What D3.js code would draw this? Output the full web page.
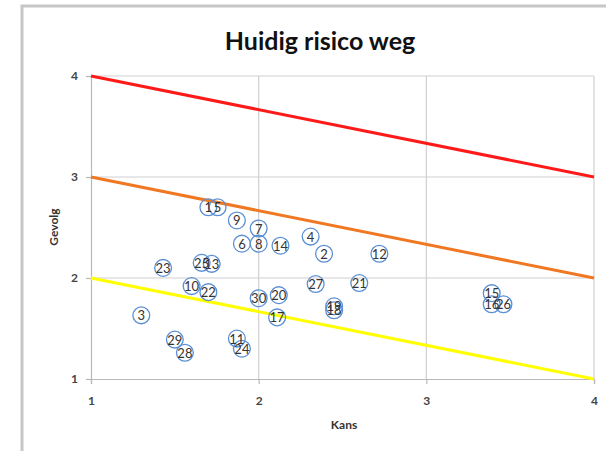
<!DOCTYPE html>
<html>
<head>
<meta charset="utf-8">
<script src="https://cdn.jsdelivr.net/npm/d3@7"></script>
<style>
  html, body { margin: 0; padding: 0; background: #fff; }
  svg { display: block; }
</style>
</head>
<body>
<svg id="chart" width="606" height="451"></svg>
<script>
// Risk items: likelihood (Kans) and impact (Gevolg)
const ids    = [1, 2, 3, 4, 5, 6, 7, 8, 9, 10, 11, 12, 13, 14, 15, 16, 17, 18, 19, 20, 21, 22, 23, 24, 25, 26, 27, 28, 29, 30];
const kans   = [1.70, 2.39, 1.30, 2.31, 1.755, 1.90, 2.00, 2.00, 1.87, 1.60, 1.87, 2.72, 1.72, 2.13, 3.39, 3.39, 2.11, 2.45, 2.45, 2.12, 2.60, 1.70, 1.43, 1.90, 1.66, 3.46, 2.34, 1.56, 1.50, 2.00];
const gevolg = [2.70, 2.24, 1.63, 2.41, 2.70, 2.34, 2.49, 2.34, 2.57, 1.92, 1.40, 2.24, 2.14, 2.32, 1.85, 1.74, 1.61, 1.68, 1.72, 1.83, 1.95, 1.86, 2.10, 1.30, 2.15, 1.74, 1.94, 1.26, 1.39, 1.80];

// Risk boundary lines (start and end values on the Gevolg axis)
const boundaryNames = ["hoog", "midden", "laag"];
const boundaryStart = [4, 3, 2];
const boundaryEnd   = [3, 2, 1];
const boundaryColors = ["#ff1a1a", "#f07822", "#ffff00"];

const xTicks = [1, 2, 3, 4];
const yTicks = [1, 2, 3, 4];

const svg = d3.select("#chart");

// Outer chart frame
svg.append("rect")
  .attr("x", 22).attr("y", 6)
  .attr("width", 620).attr("height", 480)
  .attr("fill", "#fff")
  .attr("stroke", "#c6c6c6")
  .attr("stroke-width", 3);

const x = d3.scaleLinear().domain([1, 4]).range([91, 594]);
const y = d3.scaleLinear().domain([1, 4]).range([379, 76]);

// Gridlines
const grid = svg.append("g");
grid.selectAll("line.v").data(xTicks.slice(1)).join("line")
  .attr("x1", d => x(d)).attr("x2", d => x(d))
  .attr("y1", y(4)).attr("y2", y(1))
  .attr("stroke", "#cfcfcf").attr("stroke-width", 1.2);
grid.selectAll("line.h").data(yTicks.slice(1)).join("line")
  .attr("x1", x(1)).attr("x2", x(4))
  .attr("y1", d => y(d)).attr("y2", d => y(d))
  .attr("stroke", "#cfcfcf").attr("stroke-width", 1.2);

// Axes
const xAxis = svg.append("g")
  .attr("transform", `translate(0,${y(1)})`)
  .call(d3.axisBottom(x).tickValues(xTicks).tickFormat(d3.format("d")).tickSize(5).tickPadding(12));
const yAxis = svg.append("g")
  .attr("transform", `translate(${x(1)},0)`)
  .call(d3.axisLeft(y).tickValues(yTicks).tickFormat(d3.format("d")).tickSize(5).tickPadding(8));
[xAxis, yAxis].forEach(a => {
  a.select(".domain").attr("stroke", "#b8b8b8").attr("stroke-width", 1.2);
  a.selectAll(".tick line").attr("stroke", "#b8b8b8").attr("stroke-width", 1.2);
  a.selectAll(".tick text")
    .attr("font-family", "Lato, 'Open Sans', sans-serif")
    .attr("font-size", 12).attr("font-weight", 700)
    .attr("fill", "#444");
});

// Boundary lines
svg.append("g").selectAll("line").data(boundaryNames).join("line")
  .attr("x1", x(1)).attr("x2", x(4))
  .attr("y1", (d, i) => y(boundaryStart[i]))
  .attr("y2", (d, i) => y(boundaryEnd[i]))
  .attr("stroke", (d, i) => boundaryColors[i])
  .attr("stroke-width", 3);

// Points with their numbers
const pts = ids.map((id, i) => ({ id, k: kans[i], g: gevolg[i] }));
const pg = svg.append("g");
pg.selectAll("circle").data(pts).join("circle")
  .attr("cx", d => x(d.k)).attr("cy", d => y(d.g))
  .attr("r", 8.4)
  .attr("fill", "none")
  .attr("stroke", "#5b8fd4")
  .attr("stroke-width", 1.3);
pg.selectAll("text").data(pts).join("text")
  .attr("x", d => x(d.k)).attr("y", d => y(d.g))
  .attr("text-anchor", "middle").attr("dominant-baseline", "central")
  .attr("font-family", "Lato, 'Open Sans', sans-serif")
  .attr("font-size", 13)
  .attr("fill", "#333")
  .text(d => d.id);

// Title and axis titles
svg.append("text")
  .attr("x", 320).attr("y", 50)
  .attr("text-anchor", "middle")
  .attr("font-family", "Lato, 'Open Sans', sans-serif")
  .attr("font-weight", 700).attr("font-size", 25)
  .attr("fill", "#111")
  .text("Huidig risico weg");

svg.append("text")
  .attr("x", 344).attr("y", 429)
  .attr("text-anchor", "middle")
  .attr("font-family", "Lato, 'Open Sans', sans-serif")
  .attr("font-weight", 700).attr("font-size", 12)
  .attr("fill", "#333")
  .text("Kans");

svg.append("text")
  .attr("transform", "translate(58,227) rotate(-90)")
  .attr("text-anchor", "middle")
  .attr("font-family", "Lato, 'Open Sans', sans-serif")
  .attr("font-weight", 700).attr("font-size", 12)
  .attr("fill", "#333")
  .text("Gevolg");
</script>
</body>
</html>
